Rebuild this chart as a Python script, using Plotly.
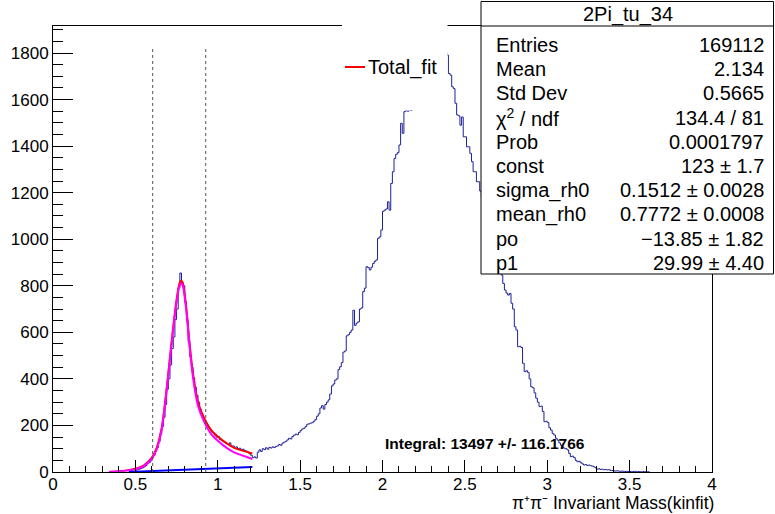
import numpy as np
import plotly.graph_objects as go

# ---------------- data ----------------
hist_start = 0.50
bin_width = 0.01
counts_rho = [8, 10, 12, 15, 18, 22, 28, 38, 40, 48,
              62, 72, 90, 105, 130, 165, 195, 235, 290, 355,
              400, 460, 530, 580, 655, 700, 790, 855, 815, 800,
              730, 650, 560, 495, 450, 405, 365, 330, 300, 270,
              245, 232, 218, 205, 192, 185, 172, 168, 158, 150,
              152, 140, 135, 130, 128, 122, 118, 125, 110, 112,
              105, 108, 100, 102, 95, 98, 92, 90, 85, 78]
counts_rise = [72, 62, 65, 60, 85, 95, 88, 100, 96, 104,
               98, 106, 103, 108, 105, 110, 112, 118, 115, 124,
               128, 132, 138, 145, 142, 152, 158, 163, 160, 170,
               178, 185, 188, 195, 205, 207, 210, 212, 218, 225,
               240, 250, 275, 285, 270, 290, 300, 310, 335, 370,
               378, 395, 400, 440, 452, 470, 515, 520, 585, 590]
counts_peak = [600, 610, 695, 630, 640, 645, 700, 705, 775, 790,
               882, 878, 868, 880, 896, 905, 911, 1004, 1010, 1040,
               1120, 1125, 1130, 1161, 1125, 1240, 1290, 1347, 1365, 1372,
               1405, 1498, 1455, 1548, 1552, 1550, 1600, 1553, 1630, 1650,
               1660, 1690, 1700, 1720, 1740, 1745, 1770, 1780, 1790, 1800,
               1810, 1820, 1815, 1830, 1825, 1820, 1815, 1810, 1805, 1791]
counts_fall = [1712, 1705, 1655, 1647, 1584, 1534, 1530, 1490, 1525, 1440,
               1440, 1397, 1397, 1369, 1333, 1290, 1290, 1247, 1247, 1207,
               1180, 1150, 1120, 1090, 1060, 1030, 1000, 970, 940, 910,
               880, 860, 846, 810, 782, 769, 760, 767, 725, 700,
               624, 610, 538, 540, 535, 467, 431, 435, 428, 400,
               366, 362, 340, 317, 300, 281, 283, 260, 216, 218]
counts_tail = [212, 190, 180, 165, 159, 145, 137, 125, 115, 108,
               102, 100, 95, 80, 66, 68, 62, 50, 44, 46,
               40, 35, 30, 32, 28, 30, 27, 25, 22, 18,
               12, 14, 11, 12, 10, 11, 9, 10, 7, 6,
               5, 4, 5, 4, 3, 4, 3, 2, 3, 2,
               2, 1, 2, 3, 1, 2, 1, 1, 2, 1,
               1, 1]

fit_x = [0.34, 0.40, 0.45, 0.50, 0.55, 0.60, 0.63, 0.66, 0.69, 0.72, 0.75, 0.77,
         0.78, 0.79, 0.81, 0.83, 0.85, 0.88, 0.92, 0.96, 1.00, 1.05, 1.10, 1.15, 1.21]
fit_total = [0, 3, 7, 14, 28, 62, 105, 190, 360, 560, 740, 815,
             822, 805, 700, 545, 420, 300, 228, 180, 152, 125, 104, 92, 80]
fit_signal = [0, 3, 7, 12, 25, 57, 99, 183, 352, 551, 730, 804,
              811, 794, 688, 532, 406, 285, 212, 163, 134, 106, 84, 71, 56]
bg_x = [0.46, 1.21]
bg_y = [0, 22]

cut_lines = [0.605, 0.927]
cut_top = 1820

stats_title = "2Pi_tu_34"
stats_labels = ["Entries", "Mean", "Std Dev", "χ<sup>2</sup> / ndf", "Prob", "const",
                "sigma_rh0", "mean_rh0", "po", "p1"]
stats_values = ["169112", "2.134", "0.5665", "134.4 / 81", "0.0001797", "123 ± 1.7",
                "0.1512 ± 0.0028", "0.7772 ± 0.0008", "−13.85 ± 1.82", "29.99 ± 4.40"]
integral_text = "Integral: 13497 +/- 116.1766"
x_title = "π⁺π⁻ Invariant Mass(kinfit)"
legend_label = "Total_fit"

# ---------------- figure ----------------
W, H = 775, 514
L, R, T, B = 53, 712, 26, 472
FONT = "Liberation Sans, Arial, Helvetica, sans-serif"

def px(xp):
    return (xp - L) / (R - L)

def py(yp):
    return (B - yp) / (B - T)

counts = counts_rho + counts_rise + counts_peak + counts_fall + counts_tail
edges = hist_start + bin_width * np.arange(len(counts) + 1)
hx = np.concatenate([[edges[0]], edges[:-1], [edges[-1]]])
hy = np.concatenate([[0], counts, [0]])

fig = go.Figure()
fig.add_trace(go.Scatter(x=hx, y=hy, mode="lines", line=dict(color="#1f1f99", width=1, shape="hv"),
                         showlegend=False, hoverinfo="skip"))
fig.add_trace(go.Scatter(x=fit_x, y=fit_total, mode="lines",
                         line=dict(color="#ff0000", width=2, shape="spline", smoothing=0.8),
                         showlegend=False))
fig.add_trace(go.Scatter(x=fit_x, y=fit_signal, mode="lines",
                         line=dict(color="#ff00ff", width=2, shape="spline", smoothing=0.8),
                         showlegend=False))
fig.add_trace(go.Scatter(x=bg_x, y=bg_y, mode="lines", line=dict(color="#0000ff", width=2),
                         showlegend=False))

shapes = []
for c in cut_lines:
    shapes.append(dict(type="line", xref="x", yref="y", x0=c, x1=c, y0=0, y1=cut_top,
                       line=dict(color="#555555", width=1, dash="dot"), layer="above"))
# legend box (white, no border)
shapes.append(dict(type="rect", xref="paper", yref="paper", x0=px(342), x1=px(447.5),
                   y0=py(110.5), y1=py(0), fillcolor="white", line=dict(width=0), layer="above"))
shapes.append(dict(type="line", xref="paper", yref="paper", x0=px(345), x1=px(365),
                   y0=py(67), y1=py(67), line=dict(color="#ff0000", width=2), layer="above"))
# stats box
shapes.append(dict(type="rect", xref="paper", yref="paper", x0=px(481), x1=px(773.5),
                   y0=py(274), y1=py(1.5), fillcolor="white",
                   line=dict(color="black", width=1), layer="above"))
shapes.append(dict(type="line", xref="paper", yref="paper", x0=px(481), x1=px(773.5),
                   y0=py(26), y1=py(26), line=dict(color="black", width=1), layer="above"))

SF = 20
ann = []
ann.append(dict(text=legend_label, xref="paper", yref="paper", x=px(366), y=py(67),
                xanchor="left", yanchor="middle", showarrow=False,
                font=dict(family=FONT, size=20, color="black")))
ann.append(dict(text=stats_title, xref="paper", yref="paper", x=px(627.5), y=py(14.5),
                xanchor="center", yanchor="middle", showarrow=False,
                font=dict(family=FONT, size=SF, color="black")))
for i, (lab, val) in enumerate(zip(stats_labels, stats_values)):
    yy = py(45 + i * 24.2)
    ann.append(dict(text=lab, xref="paper", yref="paper", x=px(494), y=yy,
                    xanchor="left", yanchor="middle", showarrow=False,
                    font=dict(family=FONT, size=SF, color="black")))
    ann.append(dict(text=val, xref="paper", yref="paper", x=px(766), y=yy,
                    xanchor="right", yanchor="middle", showarrow=False,
                    font=dict(family=FONT, size=SF, color="black")))
ann.append(dict(text="<b>" + integral_text + "</b>", xref="paper", yref="paper", x=px(383), y=py(443),
                xanchor="left", yanchor="middle", showarrow=False,
                font=dict(family=FONT, size=15.5, color="black")))
ann.append(dict(text=x_title, xref="paper", yref="paper", x=px(715), y=py(514),
                xanchor="right", yanchor="bottom", showarrow=False, borderpad=0,
                font=dict(family=FONT, size=17.5, color="black")))

fig.update_layout(
    width=W, height=H,
    margin=dict(l=L, r=W - R, t=T, b=H - B, pad=0),
    paper_bgcolor="white", plot_bgcolor="white",
    showlegend=False,
    shapes=shapes, annotations=ann,
    font=dict(family=FONT, size=17, color="black"),
)
fig.update_xaxes(range=[0, 4], dtick=0.5, tick0=0, showgrid=False, zeroline=False,
                 showline=True, linecolor="black", linewidth=1, mirror=True,
                 ticks="inside", ticklen=12, tickcolor="black", tickwidth=1,
                 ticklabelstandoff=-3,
                 minor=dict(dtick=0.1, tick0=0, ticks="inside", ticklen=6, tickcolor="black"),
                 tickfont=dict(family=FONT, size=17, color="black"))
fig.update_yaxes(range=[0, 1916], dtick=200, tick0=0, showgrid=False, zeroline=False,
                 showline=True, linecolor="black", linewidth=1, mirror=True,
                 ticks="inside", ticklen=20, tickcolor="black", tickwidth=1,
                 minor=dict(dtick=50, tick0=0, ticks="inside", ticklen=10, tickcolor="black"),
                 tickfont=dict(family=FONT, size=17, color="black"))

fig.write_html("out.html")
